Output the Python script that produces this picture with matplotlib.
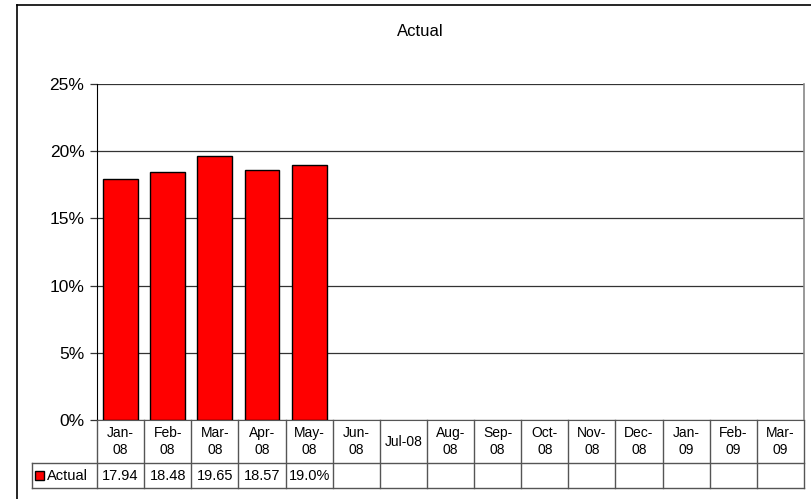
import matplotlib
matplotlib.use("Agg")
import matplotlib.pyplot as plt
from matplotlib.patches import Rectangle
from matplotlib.lines import Line2D
import matplotlib.transforms as mtransforms

plt.rcParams['font.family'] = ['Liberation Sans', 'DejaVu Sans']

months = ["Jan-\n08", "Feb-\n08", "Mar-\n08", "Apr-\n08", "May-\n08", "Jun-\n08",
          "Jul-08", "Aug-\n08", "Sep-\n08", "Oct-\n08", "Nov-\n08", "Dec-\n08",
          "Jan-\n09", "Feb-\n09", "Mar-\n09"]
actual = [17.94, 18.48, 19.65, 18.57, 19.0]
actual_labels = ["17.94", "18.48", "19.65", "18.57", "19.0%"]
series_name = "Actual"
y_ticks = [0, 5, 10, 15, 20, 25]

W, H = 811, 499
fig = plt.figure(figsize=(W / 100, H / 100), dpi=100)

# outer chart frame (left and top edges visible)
fig.add_artist(Line2D([17 / W, 17 / W], [0, 1 - 5 / H], color="black", lw=1.2,
                      transform=fig.transFigure))
fig.add_artist(Line2D([17 / W, 1], [1 - 5 / H, 1 - 5 / H], color="black", lw=1.2,
                      transform=fig.transFigure))

ax_left, ax_right, ax_top, ax_bot = 97, 804, 84, 420
ax = fig.add_axes([ax_left / W, 1 - ax_bot / H, (ax_right - ax_left) / W,
                   (ax_bot - ax_top) / H])

n = len(months)
x = list(range(len(actual)))
ax.bar(x, [v / 100 for v in actual], width=0.74, color="#ff0000",
       edgecolor="black", linewidth=1.0, zorder=3)

ax.set_xlim(-0.5, n - 0.5)
ax.set_ylim(0, 0.25)
ax.set_yticks([t / 100 for t in y_ticks])
ax.set_yticklabels([f"{t}%" for t in y_ticks], fontsize=12.5)
ax.set_xticks([])
ax.yaxis.grid(True, color="#333333", lw=0.9, zorder=0)
ax.tick_params(axis="y", length=5, width=0.9, color="#333333", pad=4)
ax.spines["left"].set_color("black")
ax.spines["top"].set_visible(False)
ax.spines["bottom"].set_color("#555555")
ax.spines["right"].set_color("#888888")
ax.spines["right"].set_linewidth(1.2)

# data table beneath the plot
trans = mtransforms.blended_transform_factory(ax.transData, ax.transAxes)
ax_h = ax_bot - ax_top
def yfrac(py):
    return (ax_bot - py) / ax_h

hdr_bot = yfrac(463)
row_bot = yfrac(488)
line_col = "#555555"

for i in range(n + 1):
    xb = i - 0.5
    ax.add_line(Line2D([xb, xb], [0, row_bot], transform=trans, color=line_col,
                       lw=1.0, clip_on=False))

label_left = ax_left - 65
xl = -0.5 - (ax_left - label_left) / ((ax_right - ax_left) / n)
for yy in (hdr_bot, row_bot):
    ax.add_line(Line2D([xl, n - 0.5], [yy, yy], transform=trans, color=line_col,
                       lw=1.0, clip_on=False))
ax.add_line(Line2D([xl, xl], [hdr_bot, row_bot], transform=trans, color=line_col,
                   lw=1.0, clip_on=False))

for i, m in enumerate(months):
    ax.text(i, (0 + hdr_bot) / 2, m, transform=trans, ha="center", va="center",
            fontsize=10, linespacing=1.3, clip_on=False)

for i, lab in enumerate(actual_labels):
    ax.text(i, (hdr_bot + row_bot) / 2, lab, transform=trans, ha="center",
            va="center", fontsize=10.5, clip_on=False)

# legend key inside the row label cell
key_px = 9
ax.add_patch(Rectangle((xl + 3 / 47.13, (hdr_bot + row_bot) / 2 - key_px / ax_h / 2),
                       key_px / 47.13, key_px / ax_h, transform=trans,
                       facecolor="#ff0000", edgecolor="black", lw=1.0, clip_on=False))
ax.text(xl + 15 / 47.13, (hdr_bot + row_bot) / 2, series_name, transform=trans,
        ha="left", va="center", fontsize=10.5, clip_on=False)

fig.text(420 / W, 1 - 32 / H, "Actual", ha="center", va="center", fontsize=12)

fig.savefig("out.png", dpi=100)
